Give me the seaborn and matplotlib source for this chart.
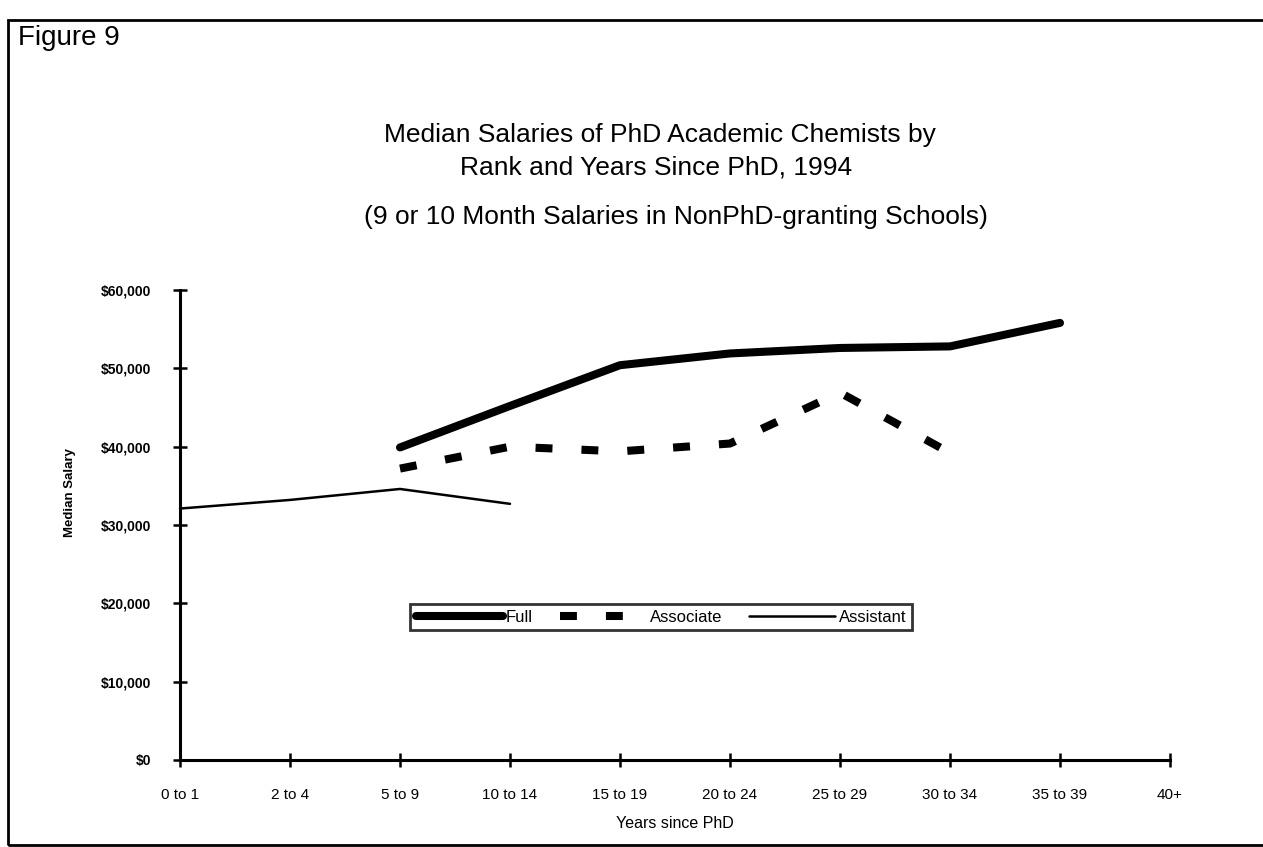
import matplotlib
matplotlib.use("Agg")
import matplotlib.pyplot as plt
import seaborn as sns
import pandas as pd
from matplotlib.patches import Rectangle
from matplotlib.ticker import FuncFormatter

# data
years = ["0 to 1", "2 to 4", "5 to 9", "10 to 14", "15 to 19",
         "20 to 24", "25 to 29", "30 to 34", "35 to 39", "40+"]

full_years = ["5 to 9", "10 to 14", "15 to 19", "20 to 24", "25 to 29", "30 to 34", "35 to 39"]
full_salary = [39900, 45200, 50400, 51900, 52600, 52800, 55800]

assoc_years = ["5 to 9", "10 to 14", "15 to 19", "20 to 24", "25 to 29", "30 to 34"]
assoc_salary = [37200, 40000, 39400, 40400, 46900, 39200]

asst_years = ["0 to 1", "2 to 4", "5 to 9", "10 to 14"]
asst_salary = [32100, 33200, 34600, 32700]

full = pd.DataFrame({"pos": [years.index(y) for y in full_years], "salary": full_salary})
assoc = pd.DataFrame({"pos": [years.index(y) for y in assoc_years], "salary": assoc_salary})
asst = pd.DataFrame({"pos": [years.index(y) for y in asst_years], "salary": asst_salary})

sns.set_style("ticks")
plt.rcParams["font.family"] = ["Liberation Sans", "DejaVu Sans"]
plt.rcParams["text.color"] = "black"
plt.rcParams["axes.labelcolor"] = "black"
plt.rcParams["xtick.color"] = "black"
plt.rcParams["ytick.color"] = "black"

fig = plt.figure(figsize=(12.63, 8.47), dpi=100)
ax = fig.add_axes([180 / 1263, 1 - 760 / 847, 990 / 1263, 470 / 847])

sns.lineplot(data=full, x="pos", y="salary", ax=ax, color="black", lw=5.8,
             solid_capstyle="round", label="Full", clip_on=False)
sns.lineplot(data=assoc, x="pos", y="salary", ax=ax, color="black", lw=5.8,
             linestyle=(0, (2.1, 3.6)), dash_capstyle="butt", label="Associate", clip_on=False)
sns.lineplot(data=asst, x="pos", y="salary", ax=ax, color="black", lw=1.8,
             label="Assistant", clip_on=False)

ax.set_xlim(0, 9)
ax.set_ylim(0, 60000)
ax.set_xticks(range(len(years)))
ax.set_xticklabels(years, fontsize=11)
ax.set_yticks(range(0, 60001, 10000))
ax.yaxis.set_major_formatter(FuncFormatter(lambda v, p: f"${v:,.0f}"))
for lab in ax.get_yticklabels():
    lab.set_fontweight("bold")
    lab.set_fontsize(10)

sns.despine(ax=ax)
for side in ["left", "bottom"]:
    ax.spines[side].set_linewidth(2.2)
    ax.spines[side].set_color("black")
ax.tick_params(axis="both", direction="inout", length=10, width=1.8, color="black")
ax.tick_params(axis="y", pad=16)
ax.tick_params(axis="x", pad=15)

ax.set_xlabel("Years since PhD", fontsize=11.5, labelpad=10)
ax.set_ylabel("")
fig.text(70 / 1263, 1 - 492 / 847, "Median Salary", rotation=90, ha="center", va="center",
         fontsize=9.5, fontweight="bold")

leg = ax.legend(loc="center", bbox_to_anchor=(0.486, 0.304), ncol=3, fontsize=12,
                frameon=True, fancybox=False, edgecolor="black", handlelength=5.2,
                handletextpad=0.2, columnspacing=1.6, borderpad=0.35)
leg.get_frame().set_linewidth(2)

# titles
fig.text(18 / 1263, 1 - 38 / 847, "Figure 9", fontsize=20, ha="left", va="center")
fig.text(660 / 1263, 1 - 135 / 847, "Median Salaries of PhD Academic Chemists by",
         fontsize=19, ha="center", va="center")
fig.text(656 / 1263, 1 - 167 / 847, "Rank and Years Since PhD, 1994",
         fontsize=19, ha="center", va="center")
fig.text(676 / 1263, 1 - 217 / 847, "(9 or 10 Month Salaries in NonPhD-granting Schools)",
         fontsize=19, ha="center", va="center")

# page border
fig.add_artist(Rectangle((8 / 1263, 2 / 847), 1.0, 825 / 847, transform=fig.transFigure,
                         fill=False, lw=2, edgecolor="black"))

fig.savefig("out.png", dpi=100)
